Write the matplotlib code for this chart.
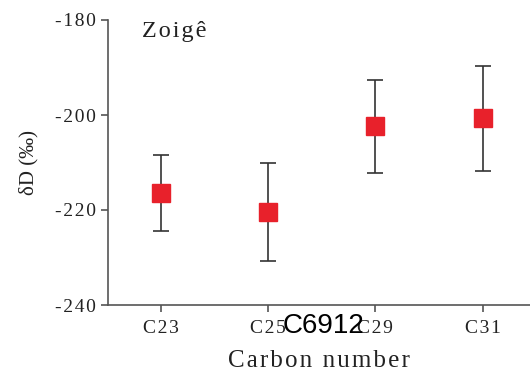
import matplotlib
matplotlib.use("Agg")
import matplotlib.pyplot as plt

carbon = ["C23", "C25", "C29", "C31"]
dD = [-216.5, -220.4, -202.4, -200.7]
dD_err = [8.0, 10.3, 9.8, 11.1]
yticks = [-240, -220, -200, -180]

plt.rcParams["font.family"] = ["Liberation Serif", "DejaVu Serif"]
grey = "#555555"
HAIR = "\u200a"


def spaced(s, sep=HAIR):
    # the original uses loose letter spacing
    return sep.join(s)


fig = plt.figure(figsize=(5.3, 3.76), dpi=100)
ax = fig.add_axes([108 / 530, 71 / 376, 422 / 530, 285 / 376])

x = list(range(1, len(carbon) + 1))
ax.errorbar(x, dD, yerr=dD_err, fmt="s", color="#e8212b", ms=13,
            ecolor="#333333", elinewidth=1.2, capsize=6, capthick=1.2,
            mec="#e8212b", zorder=3)

ax.set_xlim(0.51, 4.44)
ax.set_ylim(-240, -180)
ax.set_yticks(yticks)
ax.set_yticklabels([spaced(str(v)) for v in yticks])
ax.set_xticks(x)
ax.set_xticklabels([spaced(c) for c in carbon])

for s in ("top", "right"):
    ax.spines[s].set_visible(False)
for s in ("left", "bottom"):
    ax.spines[s].set_color(grey)
    ax.spines[s].set_linewidth(1.2)
ax.tick_params(axis="both", colors=grey, labelcolor="#222222", labelsize=14,
               length=5, width=1.2, direction="out")
ax.tick_params(axis="x", pad=6)

ax.set_xlabel(spaced("Carbon number"), fontsize=18, color="#222222",
              labelpad=9)
ax.set_ylabel("δD (‰)", fontsize=15, color="#222222", labelpad=12)
ax.text(0.08, 0.96, spaced("Zoigê"), transform=ax.transAxes, fontsize=17.5,
        color="#222222", va="center", ha="left")

fig.text(324 / 530, 1 - 326 / 376, "C6912", family="Liberation Sans",
         fontsize=20, color="black", ha="center", va="center")

fig.savefig("out.png", dpi=100)
